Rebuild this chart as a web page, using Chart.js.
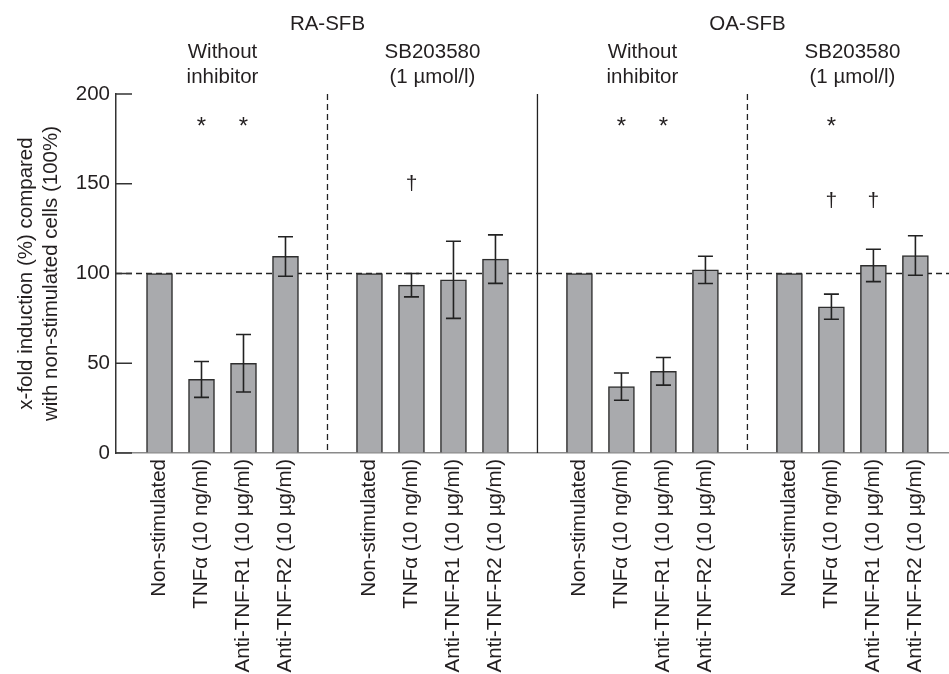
<!DOCTYPE html>
<html lang="en">
<head>
  <meta charset="UTF-8">
  <title>x-fold induction, RA-SFB vs OA-SFB</title>
  <style>
    body {
      margin: 0;
      background: #fff;
    }
    #wrap {
      width: 949px;
      height: 674px;
    }
  </style>
  <script src="https://cdn.jsdelivr.net/npm/chart.js"></script>
</head>
<body>
  <div id="wrap"><canvas id="chart"></canvas></div>

  <script>
    // categories inside each group, group headers and cell types
    const categories = ['Non-stimulated', 'TNFα (10 ng/ml)', 'Anti-TNF-R1 (10 µg/ml)', 'Anti-TNF-R2 (10 µg/ml)'];
    const groupHeaders = [['Without', 'inhibitor'], ['SB203580', '(1 µmol/l)'], ['Without', 'inhibitor'], ['SB203580', '(1 µmol/l)']];
    const cellTypes = ['RA-SFB', 'OA-SFB'];

    // bar heights (%) and error bar half-widths, 16 bars in 4 groups
    const means = [100, 41, 50, 109.5, 100, 93.5, 96.5, 108, 100, 37, 45.5, 102, 100, 81.5, 104.5, 110];
    const errors = [0, 10, 16, 11, 0, 6.5, 21.5, 13.5, 0, 7.6, 7.7, 7.6, 0, 7, 9, 11];

    // significance marks: bar index and level
    const starBars = [1, 2, 9, 10, 13];
    const starLevel = 184;
    const daggerBars = [5, 13, 14];
    const daggerLevels = [150, 140, 140];

    const yTicks = [0, 50, 100, 150, 200];
    const refLevel = 100;

    // each group takes 4 slots and one empty slot follows it
    const slots = means.map((_, k) => Math.floor(k / 4) * 5 + (k % 4));
    const dividers = [4, 9, 14];
    const dividerDashed = [true, false, true];

    const FONT = '"Liberation Sans", Arial, sans-serif';
    const SIZE = 20.5;
    const INK = '#231f20';

    const decorations = {
      id: 'decorations',
      beforeDatasetsDraw(chart) {
        const { ctx, chartArea: a, scales: { x, y } } = chart;
        ctx.save();
        ctx.strokeStyle = '#222';
        ctx.lineWidth = 1.3;
        // dashed reference line
        ctx.setLineDash([6, 4]);
        ctx.beginPath();
        ctx.moveTo(a.left, y.getPixelForValue(refLevel));
        ctx.lineTo(a.right, y.getPixelForValue(refLevel));
        ctx.stroke();
        // group dividers
        dividers.forEach((d, i) => {
          ctx.setLineDash(dividerDashed[i] ? [6, 4] : []);
          const px = x.getPixelForValue(d);
          ctx.beginPath();
          ctx.moveTo(px, a.top);
          ctx.lineTo(px, a.bottom);
          ctx.stroke();
        });
        ctx.restore();
      },
      afterDatasetsDraw(chart) {
        const { ctx, chartArea: a, scales: { x, y } } = chart;
        ctx.save();
        // error bars
        ctx.strokeStyle = '#222';
        ctx.lineWidth = 1.6;
        means.forEach((m, k) => {
          if (!errors[k]) return;
          const px = x.getPixelForValue(slots[k]);
          const top = y.getPixelForValue(m + errors[k]);
          const bot = y.getPixelForValue(m - errors[k]);
          ctx.beginPath();
          ctx.moveTo(px, top);
          ctx.lineTo(px, bot);
          ctx.moveTo(px - 7.5, top);
          ctx.lineTo(px + 7.5, top);
          ctx.moveTo(px - 7.5, bot);
          ctx.lineTo(px + 7.5, bot);
          ctx.stroke();
        });
        // inward y ticks
        ctx.strokeStyle = '#333';
        ctx.lineWidth = 1.5;
        yTicks.forEach(t => {
          const py = y.getPixelForValue(t);
          ctx.beginPath();
          ctx.moveTo(a.left, py);
          ctx.lineTo(a.left + 16, py);
          ctx.stroke();
        });
        // significance marks
        ctx.fillStyle = INK;
        ctx.textAlign = 'center';
        ctx.textBaseline = 'middle';
        ctx.font = '24px ' + FONT;
        starBars.forEach(k => {
          ctx.fillText('*', x.getPixelForValue(slots[k]), y.getPixelForValue(starLevel) + 5);
        });
        ctx.font = '21px ' + FONT;
        daggerBars.forEach((k, i) => {
          ctx.fillText('†', x.getPixelForValue(slots[k]), y.getPixelForValue(daggerLevels[i]));
        });
        // headers
        ctx.font = SIZE + 'px ' + FONT;
        cellTypes.forEach((c, i) => {
          ctx.fillText(c, x.getPixelForValue(dividers[i * 2]), 24);
        });
        groupHeaders.forEach((lines, g) => {
          const px = x.getPixelForValue(g * 5 + 1.5);
          ctx.fillText(lines[0], px, 52);
          ctx.fillText(lines[1], px, 77);
        });
        ctx.restore();
      }
    };

    const ctx = document.getElementById('chart').getContext('2d');
    const chart = new Chart(ctx, {
      type: 'bar',
      data: {
        datasets: [{
          data: slots.map((s, k) => ({ x: s, y: means[k] })),
          backgroundColor: '#a9aaad',
          borderColor: '#2e2e2e',
          borderWidth: 1.5,
          barThickness: 26
        }]
      },
      options: {
        responsive: true,
        maintainAspectRatio: false,
        animation: false,
        layout: { padding: { top: 94, right: 0, left: 0, bottom: 0 } },
        plugins: {
          legend: { display: false },
          tooltip: { enabled: false }
        },
        scales: {
          x: {
            type: 'linear',
            offset: false,
            min: -1.036,
            max: 18.8,
            grid: { display: false, drawTicks: false },
            border: { display: true, color: '#8a8a8a', width: 1.5 },
            afterBuildTicks: s => { s.ticks = slots.map(v => ({ value: v })); },
            afterFit: s => { s.height = 221; },
            ticks: {
              autoSkip: false,
              minRotation: 90,
              maxRotation: 90,
              padding: 6,
              color: INK,
              font: { family: FONT, size: SIZE },
              callback: v => categories[slots.indexOf(v) % 4]
            }
          },
          y: {
            min: 0,
            max: 200,
            grid: { drawOnChartArea: false, drawTicks: false },
            border: { display: true, color: '#333', width: 1.5 },
            afterFit: s => { s.width = 116; },
            ticks: {
              stepSize: 50,
              padding: 6,
              color: INK,
              font: { family: FONT, size: SIZE }
            },
            title: {
              display: true,
              text: ['x-fold induction (%) compared', 'with non-stimulated cells (100%)'],
              color: INK,
              font: { family: FONT, size: SIZE, lineHeight: 1.2 },
              padding: { top: 14, bottom: 0 }
            }
          }
        }
      },
      plugins: [decorations]
    });
  </script>
</body>
</html>
